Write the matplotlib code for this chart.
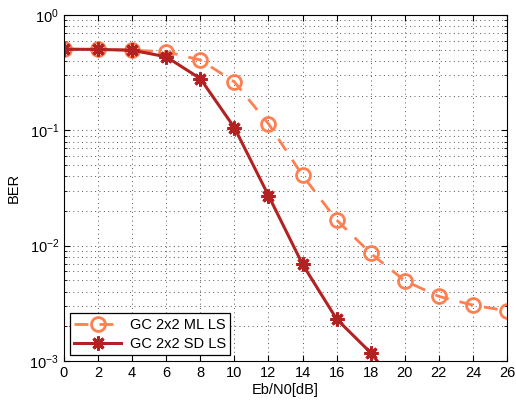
import matplotlib
matplotlib.use("Agg")
import matplotlib.pyplot as plt
from matplotlib.ticker import LogLocator, NullFormatter, FixedLocator

plt.rcParams['font.family'] = ['Liberation Sans', 'DejaVu Sans']

ebn0 = [0, 2, 4, 6, 8, 10, 12, 14, 16, 18, 20, 22, 24, 26]
ber_ml = [0.505, 0.503, 0.495, 0.48, 0.407, 0.263, 0.114, 0.0406, 0.0167,
          0.00857, 0.00496, 0.00363, 0.00305, 0.00272]
ebn0_sd = [0, 2, 4, 6, 8, 10, 12, 14, 16, 18, 20]
ber_sd = [0.505, 0.503, 0.495, 0.434, 0.281, 0.1055, 0.0272, 0.0069, 0.00231,
          0.00118, 0.0005]
xticks = list(range(0, 27, 2))

c_ml = '#FF7F50'
c_sd = '#B22222'

fig = plt.figure(figsize=(5.16, 4.03), dpi=100)
ax = fig.add_axes([0.124, 0.1042, 0.8586, 0.8586])

ax.semilogy(ebn0, ber_ml, linestyle='--', color=c_ml, linewidth=2,
            marker='o', markersize=10, markerfacecolor='none',
            markeredgewidth=2, dashes=(5, 4), label='GC 2x2 ML LS')
ax.semilogy(ebn0_sd, ber_sd, linestyle='-', color=c_sd, linewidth=2.2,
            marker=(8, 2, 0), markersize=10, markeredgewidth=2.2,
            label='GC 2x2 SD LS')

ax.set_xlim(0, 26)
ax.set_ylim(1e-3, 1)
ax.xaxis.set_major_locator(FixedLocator(xticks))
ax.yaxis.set_major_locator(LogLocator(base=10, numticks=10))
ax.yaxis.set_minor_locator(LogLocator(base=10, subs=range(2, 10), numticks=10))
ax.yaxis.set_minor_formatter(NullFormatter())

grid_style = dict(linestyle=(0, (1, 3.5)), color='#555555', linewidth=0.7)
ax.grid(True, which='major', **grid_style)
ax.grid(True, which='minor', axis='y', **grid_style)
ax.set_axisbelow(True)

ax.tick_params(which='both', direction='in', top=True, right=True, labelsize=10.5)
ax.tick_params(which='major', length=4)
ax.tick_params(which='minor', length=2)
for s in ax.spines.values():
    s.set_linewidth(0.8)

ax.set_xlabel('Eb/N0[dB]', fontsize=10.5, labelpad=2)
ax.set_ylabel('BER', fontsize=10.5, labelpad=6)

leg = ax.legend(loc='lower left', fontsize=10.5, fancybox=False, framealpha=1,
                edgecolor='black', handlelength=3.2, borderaxespad=0.4,
                borderpad=0.3, labelspacing=0.35, handletextpad=0.6)
leg.get_frame().set_linewidth(0.9)

fig.savefig('out.png', dpi=100)
